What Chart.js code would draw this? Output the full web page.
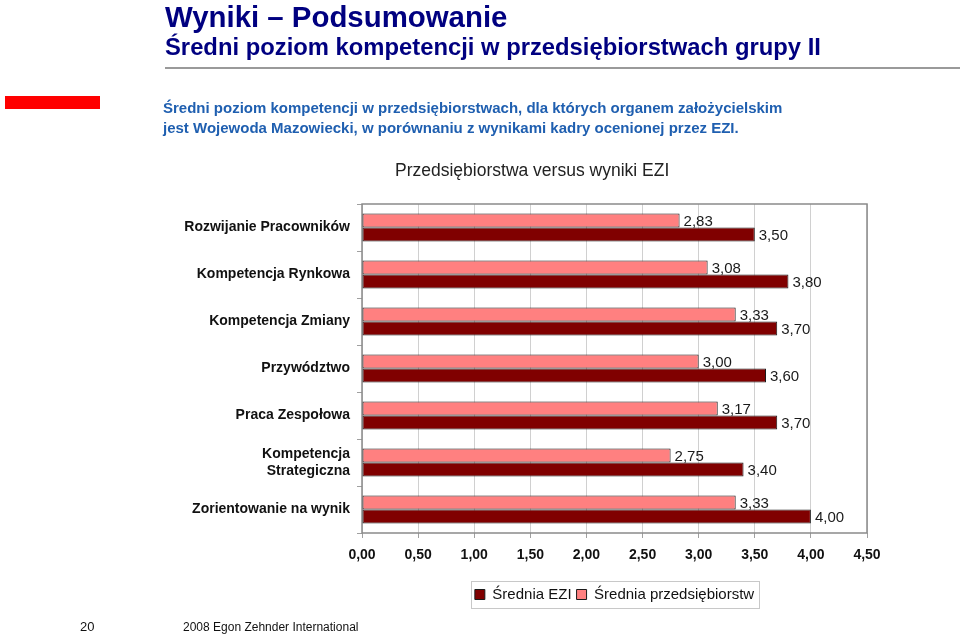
<!DOCTYPE html>
<html>
<head>
<meta charset="utf-8">
<script src="https://cdn.jsdelivr.net/npm/chart.js@4/dist/chart.umd.min.js"></script>
<style>
  html, body { margin: 0; padding: 0; background: #fff; }
  body { width: 960px; height: 637px; position: relative; overflow: hidden; font-family: Arial, "Liberation Sans", sans-serif; }
  #c { position: absolute; left: 0; top: 0; }
  .t { position: absolute; white-space: nowrap; }
  #h1 { left: 165px; top: 0px; font-size: 29.4px; font-weight: bold; color: #000080; }
  #h2 { left: 165px; top: 33px; font-size: 23.8px; font-weight: bold; color: #000080; }
  #rule { position: absolute; left: 165px; top: 67px; width: 795px; height: 2px; background: #9a9a9a; }
  #red { position: absolute; left: 5px; top: 96px; width: 95px; height: 13px; background: #ff0000; }
  #p1 { left: 163px; top: 98px; font-size: 15px; font-weight: bold; color: #1f5fb0; line-height: 20px; }
  #ctitle { left: 395px; top: 160px; font-size: 17.5px; color: #222; }
  #pg { left: 80px; top: 619px; font-size: 13px; color: #111; }
  #ft { left: 183px; top: 620px; font-size: 12px; color: #111; }
</style>
</head>
<body>
<canvas id="c" width="960" height="637"></canvas>
<div class="t" id="h1">Wyniki – Podsumowanie</div>
<div class="t" id="h2">Średni poziom kompetencji w przedsiębiorstwach grupy II</div>
<div id="rule"></div>
<div id="red"></div>
<div class="t" id="p1">Średni poziom kompetencji w przedsiębiorstwach, dla których organem założycielskim<br>jest Wojewoda Mazowiecki, w porównaniu z wynikami kadry ocenionej przez EZI.</div>
<div class="t" id="ctitle">Przedsiębiorstwa versus wyniki EZI</div>
<div class="t" id="pg">20</div>
<div class="t" id="ft">2008 Egon Zehnder International</div>
<script>
const categories = [
  "Rozwijanie Pracowników",
  "Kompetencja Rynkowa",
  "Kompetencja Zmiany",
  "Przywództwo",
  "Praca Zespołowa",
  ["Kompetencja", "Strategiczna"],
  "Zorientowanie na wynik"
];
const sredniaPrzedsiebiorstw = [2.83, 3.08, 3.33, 3.00, 3.17, 2.75, 3.33];
const sredniaEZI = [3.50, 3.80, 3.70, 3.60, 3.70, 3.40, 4.00];
const xTickMin = 0, xTickMax = 4.5, xTickStep = 0.5;

const fmt = v => Number(v).toFixed(2).replace('.', ',');
const FONT = 'Arial, "Liberation Sans", sans-serif';

const boxPlugin = {
  id: 'plotBox',
  beforeDatasetsDraw(chart) {
    const {ctx, chartArea: a} = chart;
    ctx.save();
    ctx.strokeStyle = '#8a8a8a';
    ctx.lineWidth = 1.5;
    ctx.strokeRect(a.left, a.top, a.right - a.left, a.bottom - a.top);
    ctx.restore();
  }
};

const valueLabels = {
  id: 'valueLabels',
  afterDatasetsDraw(chart) {
    const ctx = chart.ctx;
    ctx.save();
    ctx.font = '15px ' + FONT;
    ctx.fillStyle = '#1a1a1a';
    ctx.textAlign = 'left';
    ctx.textBaseline = 'middle';
    chart.data.datasets.forEach((ds, i) => {
      const meta = chart.getDatasetMeta(i);
      meta.data.forEach((el, j) => {
        ctx.fillText(fmt(ds.data[j]), el.x + 4, el.y + 1);
      });
    });
    ctx.restore();
  }
};

const legendBorder = {
  id: 'legendBorder',
  afterDraw(chart) {
    const lg = chart.legend;
    if (!lg || !lg.legendHitBoxes || !lg.legendHitBoxes.length) return;
    const hb = lg.legendHitBoxes;
    const left = Math.min(...hb.map(h => h.left)) - 4;
    const right = Math.max(...hb.map(h => h.left + h.width)) + 5;
    const cy = hb[0].top + hb[0].height / 2;
    const ctx = chart.ctx;
    ctx.save();
    ctx.strokeStyle = '#c8c8c8';
    ctx.lineWidth = 1;
    ctx.strokeRect(Math.round(left) + 0.5, Math.round(cy - 13.5) + 0.5, Math.round(right - left), 27);
    ctx.restore();
  }
};

new Chart(document.getElementById('c'), {
  type: 'bar',
  data: {
    labels: categories,
    datasets: [
      {
        label: 'Średnia przedsiębiorstw',
        data: sredniaPrzedsiebiorstw,
        backgroundColor: '#ff8080',
        borderColor: '#1a1a1a',
        borderWidth: 1,
        borderSkipped: false,
        categoryPercentage: 0.6,
        barPercentage: 1.0
      },
      {
        label: 'Średnia EZI',
        data: sredniaEZI,
        backgroundColor: '#800000',
        borderColor: '#1a1a1a',
        borderWidth: 1,
        borderSkipped: false,
        categoryPercentage: 0.6,
        barPercentage: 1.0
      }
    ]
  },
  options: {
    indexAxis: 'y',
    responsive: false,
    devicePixelRatio: 1,
    animation: false,
    layout: { padding: { top: 204, right: 93, bottom: 25, left: 0 } },
    scales: {
      x: {
        min: xTickMin,
        max: xTickMax,
        afterFit(s) { s.height = 49; },
        border: { display: false },
        grid: { color: '#d0d0d0', lineWidth: 1, tickLength: 5, tickColor: '#a0a0a0' },
        ticks: {
          stepSize: xTickStep,
          padding: 9,
          color: '#111',
          font: { family: FONT, size: 14, weight: 'bold' },
          callback: v => fmt(v)
        }
      },
      y: {
        afterFit(s) { s.width = 362; },
        border: { display: false },
        grid: { offset: true, drawOnChartArea: false, tickLength: 5, color: '#a0a0a0' },
        ticks: {
          padding: 7,
          color: '#111',
          font: { family: FONT, size: 14, weight: 'bold' }
        }
      }
    },
    plugins: {
      title: { display: false },
      tooltip: { enabled: false },
      legend: {
        position: 'bottom',
        fullSize: false,
        reverse: true,
        labels: {
          boxWidth: 10,
          boxHeight: 10,
          padding: 5,
          color: '#111',
          font: { family: FONT, size: 15 }
        }
      }
    }
  },
  plugins: [boxPlugin, valueLabels, legendBorder]
});
</script>
</body>
</html>
